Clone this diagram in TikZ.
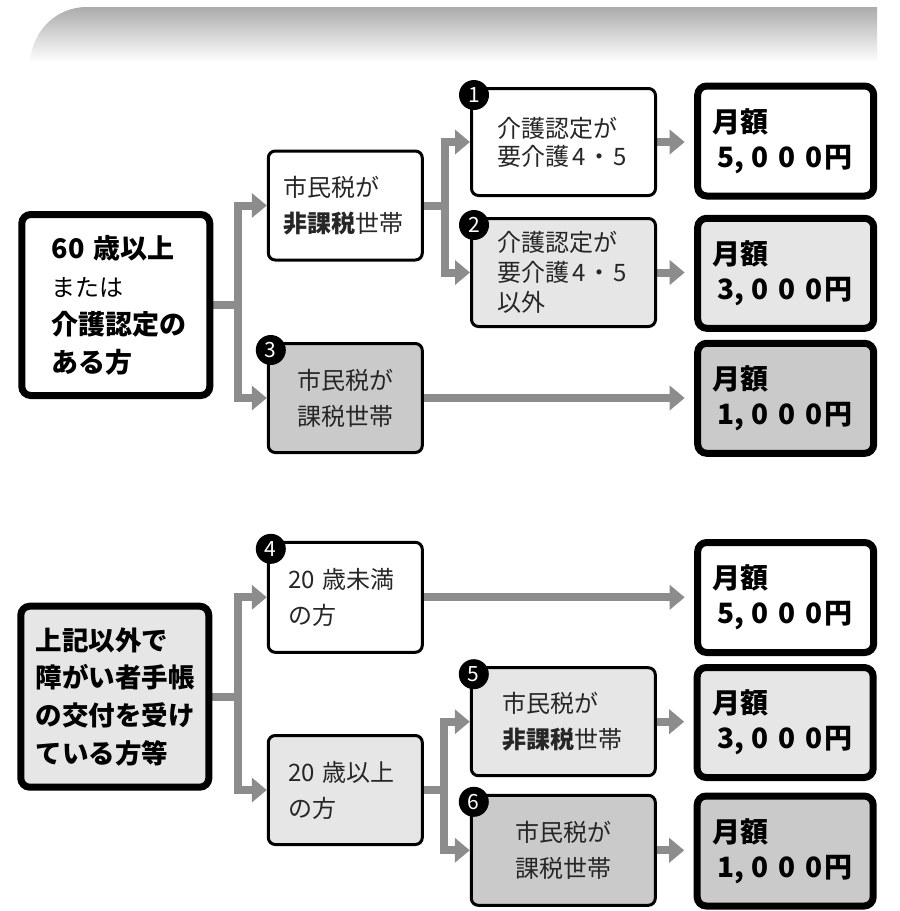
\documentclass[tikz,border=0pt]{standalone}
\usepackage{fontspec}
\setmainfont{Noto Sans CJK JP}
\usetikzlibrary{arrows.meta,backgrounds}
\definecolor{conn}{HTML}{8C8C8C}
\definecolor{lightfill}{HTML}{E6E6E6}
\definecolor{midfill}{HTML}{C9CAC9}
\definecolor{bannertop}{HTML}{ABABAB}
\newcommand{\yenamt}[1]{\hspace*{5pt}#1,\hspace{7pt}0\hspace{10pt}0\hspace{10pt}0\hspace{2pt}円}
\begin{document}
\begin{tikzpicture}[x=1pt,y=-1pt,
  box/.style={draw=black,line width=3pt,rounded corners=7pt,inner ysep=0pt,text=black!85,
    font=\fontsize{24}{36}\selectfont},
  bigbox/.style={draw=black,line width=7pt,rounded corners=9pt,inner ysep=0pt,
    font=\bfseries\fontsize{27}{38}\selectfont},
  resbox/.style={bigbox,font=\bfseries\fontsize{28}{35}\selectfont,text width=146pt,
    inner xsep=15pt,minimum height=110pt,align=left},
  badge/.style={circle,fill=black,text=white,inner sep=0pt,minimum size=30pt,
    font=\fontsize{21}{21}\selectfont},
  link/.style={draw=conn,line width=8pt},
  arr/.style={link,-{Triangle[width=24pt,length=15pt]}},
  resarr/.style={arr,shorten >=9.5pt},
]
\useasboundingbox (0,0) rectangle (900,911);

% ---- upper group ----
\node[bigbox,fill=white,text width=128pt,inner xsep=30pt,minimum height=181pt,align=left]
  (A) at (115.8,305) {60~歳以上\\{\mdseries\fontsize{24}{38}\selectfont または}\\介護認定の\\ある方};
\node[box,fill=white,text width=124pt,inner xsep=15pt,minimum height=109pt,align=left]
  (B) at (345.3,205.5) {市民税が\\\textbf{非課税}世帯};
\node[box,fill=midfill,text width=124pt,inner xsep=15pt,minimum height=109pt,align=center]
  (C) at (345.3,398) {市民税が\\課税世帯};
\node[box,fill=white,text width=133pt,inner xsep=25.5pt,minimum height=107pt,align=left,
  font=\fontsize{24}{28}\selectfont]
  (D) at (563.5,142) {介護認定が\\要介護\hspace{3pt}4\hspace{2pt}・\hspace{2pt}5};
\node[box,fill=lightfill,text width=133pt,inner xsep=25.5pt,minimum height=108pt,align=left,
  font=\fontsize{24}{30}\selectfont]
  (E) at (563.5,272.5) {介護認定が\\要介護\hspace{3pt}4\hspace{2pt}・\hspace{2pt}5\\以外};
\node[resbox,fill=white] (R1) at (785.7,141) {月額\\\yenamt{5}};
\node[resbox,fill=lightfill] (R2) at (785.7,273.3) {月額\\\yenamt{3}};
\node[resbox,fill=midfill] (R3) at (785.7,398.3) {月額\\\yenamt{1}};

% ---- lower group ----
\node[bigbox,fill=lightfill,text width=158pt,inner xsep=15pt,minimum height=181pt,align=left,
  font=\bfseries\fontsize{26.5}{37.7}\selectfont]
  (F) at (114.8,696.7) {上記以外で\\障がい者手帳\\の交付を受け\\ている方等};
\node[box,fill=white,text width=114pt,inner xsep=20pt,minimum height=110pt,align=left]
  (G) at (345.3,597.3) {20~歳未満\\の方};
\node[box,fill=lightfill,text width=114pt,inner xsep=20pt,minimum height=109pt,align=left]
  (H) at (345.3,790) {20~歳以上\\の方};
\node[box,fill=lightfill,text width=122pt,inner xsep=31pt,minimum height=108pt,align=left]
  (I) at (563.3,721.7) {市民税が\\\textbf{非課税}世帯};
\node[box,fill=midfill,text width=122pt,inner xsep=31pt,minimum height=110pt,align=center]
  (J) at (563.3,850.3) {市民税が\\課税世帯};
\node[resbox,fill=white] (R4) at (785.7,597.5) {月額\\\yenamt{5}};
\node[resbox,fill=lightfill] (R5) at (785.2,722.5) {月額\\\yenamt{3}};
\node[resbox,fill=midfill] (R6) at (785.2,851) {月額\\\yenamt{1}};

% ---- badges ----
\node[badge] (b1) at ([shift={(4,8)}]D.north west) {1};
\node[badge] (b2) at ([shift={(4,8)}]E.north west) {2};
\node[badge] (b3) at ([shift={(4,8)}]C.north west) {3};
\node[badge] (b4) at ([shift={(4,8)}]G.north west) {4};
\node[badge] (b5) at ([shift={(4,8)}]I.north west) {5};
\node[badge] (b6) at ([shift={(4,8)}]J.north west) {6};

\begin{pgfonlayer}{background}
  % banner
  \shade[top color=bannertop,bottom color=white]
    (877,7) -- (87,7) .. controls (55,7) and (32,32) .. (30,62) -- (877,62) -- cycle;
  % connectors upper
  \draw[arr] (A.east) -- ++(25,0) |- (B.west);
  \draw[arr] (A.east) -- ++(25,0) |- (C.west);
  \draw[arr] (B.east) -- ++(21,0) |- (D.west);
  \draw[arr] (B.east) -- ++(21,0) |- (E.west);
  \draw[resarr] (D.east) -- (D.east -| R1.west);
  \draw[resarr] (E.east) -- (E.east -| R2.west);
  \draw[resarr] (C.east) -- (C.east -| R3.west);
  % connectors lower
  \draw[arr] (F.east) -- ++(26,0) |- (G.west);
  \draw[arr] (F.east) -- ++(26,0) |- (H.west);
  \draw[arr] (H.east) -- ++(20,0) |- (I.west);
  \draw[arr] (H.east) -- ++(20,0) |- (J.west);
  \draw[resarr] (G.east) -- (G.east -| R4.west);
  \draw[resarr] (I.east) -- (I.east -| R5.west);
  \draw[resarr] (J.east) -- (J.east -| R6.west);
\end{pgfonlayer}
\end{tikzpicture}
\end{document}
